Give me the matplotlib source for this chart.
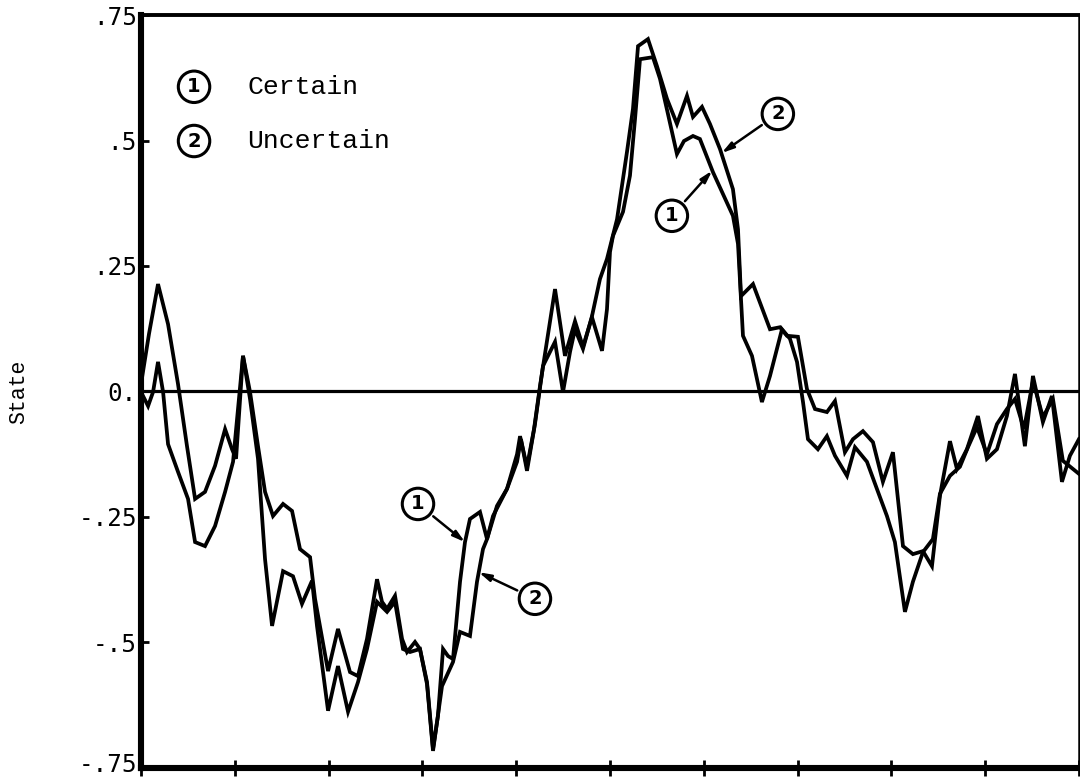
import matplotlib
matplotlib.use("Agg")
import matplotlib.pyplot as plt
from matplotlib.transforms import ScaledTranslation

# Time axis (arbitrary time units, 0-100) and state values for each run
t_certain = [0.0, 0.85, 1.81, 2.88, 3.94, 4.90, 5.76, 6.82, 7.89, 8.96, 9.70, 10.13,
             10.87, 11.62, 12.47, 13.22, 14.07, 15.14, 16.10, 16.95, 18.02, 18.55,
             19.94, 21.00, 22.28, 23.13, 24.09, 25.16, 25.69, 26.23, 27.08, 27.83,
             28.36, 29.21, 29.74, 30.49, 31.13, 31.66, 32.20, 32.73, 33.26, 34.01,
             34.54, 35.07, 36.14, 36.89, 37.53, 39.02, 40.09, 40.41, 41.15, 41.90,
             42.54, 44.14, 45.20, 46.27, 47.12, 48.08, 49.15, 49.68, 50.00, 50.32,
             51.39, 52.13, 52.67, 53.20, 54.58, 55.33, 56.18, 57.14, 57.89, 58.85,
             59.59, 60.98, 63.11, 63.65, 64.18, 65.14, 66.20, 67.06, 68.34, 69.19,
             69.94, 70.58, 71.11, 72.17, 73.13, 73.99, 75.27, 76.12, 77.40, 78.46,
             79.53, 80.38, 81.45, 82.30, 83.37, 84.43, 85.18, 86.25, 87.31, 88.17,
             89.13, 90.19, 91.26, 92.32, 93.18, 94.14, 95.10, 96.16, 97.23, 98.29,
             100.0]
state_certain = [0.015, 0.115, 0.214, 0.134, 0.015, -0.109, -0.214, -0.200, -0.148,
                 -0.075, -0.115, -0.134, 0.071, -0.001, -0.109, -0.200, -0.248, -0.224,
                 -0.238, -0.314, -0.330, -0.413, -0.557, -0.473, -0.559, -0.567, -0.493,
                 -0.374, -0.419, -0.433, -0.407, -0.493, -0.519, -0.499, -0.513, -0.579,
                 -0.712, -0.646, -0.513, -0.527, -0.533, -0.379, -0.300, -0.254, -0.240,
                 -0.294, -0.248, -0.194, -0.125, -0.089, -0.150, -0.075, 0.011, 0.204,
                 0.071, 0.140, 0.089, 0.148, 0.081, 0.164, 0.278, 0.310, 0.358, 0.430,
                 0.543, 0.662, 0.666, 0.623, 0.553, 0.473, 0.499, 0.509, 0.503, 0.437,
                 0.350, 0.294, 0.111, 0.071, -0.021, 0.031, 0.124, 0.105, 0.059, -0.021,
                 -0.095, -0.115, -0.089, -0.128, -0.168, -0.111, -0.140, -0.194, -0.248,
                 -0.300, -0.439, -0.379, -0.320, -0.294, -0.204, -0.168, -0.150, -0.111,
                 -0.071, -0.125, -0.065, -0.035, -0.015, -0.075, 0.021, -0.051, -0.015,
                 -0.138, -0.164]

t_uncertain = [0.0, 0.75, 1.28, 1.81, 2.35, 2.88, 3.94, 5.01, 5.76, 6.82, 7.89, 8.96,
               9.81, 10.87, 11.62, 12.47, 13.22, 13.97, 15.14, 16.20, 17.16, 18.23,
               18.76, 19.94, 21.00, 22.07, 23.13, 24.09, 25.16, 26.23, 27.08, 27.93,
               28.68, 29.74, 30.49, 31.13, 32.09, 33.26, 34.01, 35.07, 35.82, 36.46,
               36.89, 37.95, 39.02, 40.09, 40.51, 41.15, 42.00, 42.86, 44.14, 44.99,
               45.74, 46.27, 47.12, 48.08, 48.93, 49.68, 50.75, 51.81, 52.45, 52.99,
               54.05, 55.01, 56.08, 57.14, 58.21, 58.85, 59.81, 60.66, 61.73, 63.11,
               63.65, 63.97, 65.25, 67.06, 68.12, 68.87, 70.04, 71.00, 71.86, 73.13,
               73.99, 75.05, 75.91, 76.97, 78.04, 79.10, 80.17, 81.24, 82.30, 83.37,
               84.33, 85.18, 86.25, 86.99, 88.06, 89.23, 90.19, 91.26, 92.32, 93.18,
               94.24, 95.10, 96.16, 97.12, 98.19, 99.04, 100.0]
state_uncertain = [-0.001, -0.029, -0.001, 0.059, -0.001, -0.105, -0.160, -0.214,
                   -0.300, -0.308, -0.268, -0.200, -0.140, 0.071, -0.015, -0.134,
                   -0.334, -0.467, -0.358, -0.368, -0.423, -0.377, -0.467, -0.636,
                   -0.547, -0.638, -0.579, -0.513, -0.419, -0.439, -0.419, -0.513,
                   -0.519, -0.513, -0.583, -0.716, -0.587, -0.539, -0.479, -0.487,
                   -0.379, -0.314, -0.294, -0.228, -0.194, -0.140, -0.095, -0.158,
                   -0.065, 0.051, 0.099, -0.001, 0.079, 0.124, 0.085, 0.150, 0.224,
                   0.264, 0.343, 0.477, 0.563, 0.688, 0.702, 0.648, 0.583, 0.533,
                   0.589, 0.547, 0.567, 0.533, 0.483, 0.403, 0.323, 0.190, 0.214,
                   0.124, 0.128, 0.111, 0.109, 0.005, -0.035, -0.041, -0.019, -0.121,
                   -0.095, -0.079, -0.101, -0.180, -0.121, -0.308, -0.324, -0.318,
                   -0.348, -0.208, -0.099, -0.154, -0.115, -0.049, -0.134, -0.115,
                   -0.049, 0.035, -0.109, 0.031, -0.061, -0.009, -0.180, -0.128,
                   -0.095]

y_ticks = [0.75, 0.5, 0.25, 0.0, -0.25, -0.5, -0.75]
y_tick_labels = [".75", ".5", ".25", "0.", "-.25", "-.5", "-.75"]
x_ticks = list(range(0, 101, 10))
series_names = ["Certain", "Uncertain"]

MONO = "Liberation Mono"
INK = "black"

fig = plt.figure(figsize=(10.8, 7.78), dpi=100)
ax = fig.add_axes([0.1306, 0.0129, 0.8684, 0.9678])

ax.plot(t_certain, state_certain, color=INK, lw=2.7, solid_joinstyle="miter")
ax.plot(t_uncertain, state_uncertain, color=INK, lw=2.7, solid_joinstyle="miter")
ax.axhline(0.0, color=INK, lw=2.3)

ax.set_xlim(0, 100)
ax.set_ylim(-0.75, 0.75)

ax.set_xticks(x_ticks)
ax.set_xticklabels([])
ax.tick_params(axis="x", direction="inout", length=11, width=2, colors=INK)
ax.set_yticks(y_ticks)
ax.set_yticklabels(y_tick_labels, family="DejaVu Sans Mono", fontsize=17.5)
ax.tick_params(axis="y", direction="in", length=6, width=2, pad=3, colors=INK)

# lift the lowest tick label a little so it stays inside the figure edge
lowest = ax.get_yticklabels()[-1]
lowest.set_transform(lowest.get_transform()
                     + ScaledTranslation(0, 4 / 72, fig.dpi_scale_trans))

for side, lw in (("left", 4.4), ("bottom", 4.4), ("top", 2.8), ("right", 1.8)):
    ax.spines[side].set_linewidth(lw)
    ax.spines[side].set_color(INK)

ax.set_ylabel("State", family=MONO, fontsize=15.5)
ax.yaxis.set_label_coords(-0.119, 0.5)

circle_box = dict(boxstyle="circle,pad=0.32", fc="white", ec=INK, lw=2.2)

# Key in the upper-left corner
for num, (name, ypos) in enumerate(zip(series_names, (0.607, 0.499)), start=1):
    ax.text(5.65, ypos, str(num), ha="center", va="center", fontsize=14,
            fontweight="bold", family="DejaVu Sans", bbox=circle_box)
    ax.text(11.3, ypos, name, ha="left", va="center", fontsize=19, family=MONO)

arrow = dict(arrowstyle="-|>,head_length=0.5,head_width=0.14", color=INK, lw=1.8,
             shrinkB=0)

# Curve call-outs
callouts = [
    ("1", (34.54, -0.300), (29.53, -0.224)),
    ("2", (36.0, -0.360), (42.0, -0.413)),
    ("2", (61.9, 0.475), (67.9, 0.553)),
    ("1", (60.9, 0.440), (56.6, 0.350)),
]
for num, target, place in callouts:
    ax.annotate(num, xy=target, xytext=place, ha="center", va="center",
                fontsize=14, fontweight="bold", family="DejaVu Sans",
                bbox=circle_box, arrowprops=arrow)

fig.savefig("out.png", dpi=100)
